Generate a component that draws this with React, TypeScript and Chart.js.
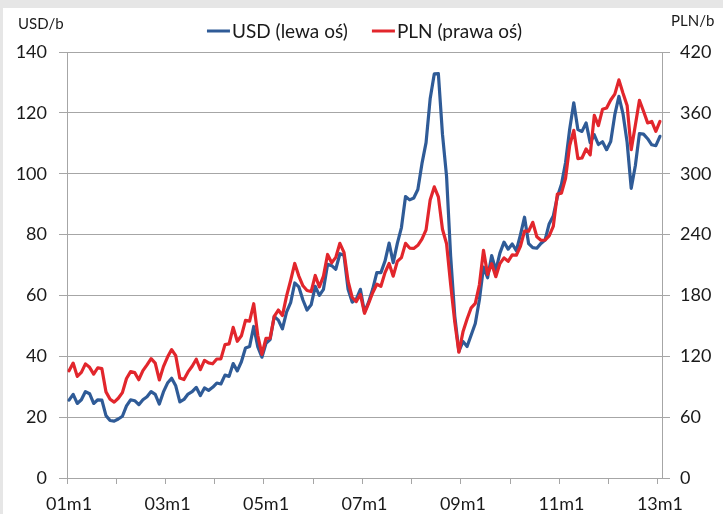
import React, { useEffect, useRef } from 'react';
import { Chart, registerables } from 'chart.js';

Chart.register(...registerables);

// ---- data ----
const YEARS = ['01', '02', '03', '04', '05', '06', '07', '08', '09', '10', '11', '12'];
const LAST_LABEL = '13m1';

const usdValues = [
  25.6, 27.5, 24.5, 25.7, 28.4, 27.7, 24.5, 25.7, 25.6, 20.5, 18.9, 18.7,
  19.4, 20.3, 23.7, 25.7, 25.4, 24.1, 25.7, 26.7, 28.4, 27.5, 24.3, 28.3,
  31.2, 32.8, 30.3, 25.0, 25.8, 27.6, 28.4, 29.8, 27.1, 29.6, 28.8, 29.8,
  31.2, 30.9, 33.8, 33.4, 37.6, 35.2, 38.2, 42.7, 43.2, 49.8, 43.1, 39.7,
  44.3, 45.5, 53.1, 51.9, 49.0, 54.5, 57.6, 64.1, 62.8, 58.5, 55.2, 56.9,
  63.0, 60.0, 62.0, 70.2, 69.8, 68.6, 73.7, 73.2, 62.0, 57.8, 58.8, 62.0,
  54.5, 57.8, 62.1, 67.5, 67.5, 71.3, 77.2, 70.8, 77.1, 82.3, 92.5, 91.4,
  92.0, 94.8, 103.3, 110.2, 124.6, 132.8, 132.9, 113.0, 99.1, 72.8, 53.2, 41.6,
  44.9, 43.2, 47.0, 50.8, 58.6, 69.3, 65.8, 73.1, 68.2, 73.9, 77.5, 75.2,
  76.9, 74.7, 79.9, 85.7, 77.0, 75.7, 75.5, 77.1, 78.2, 83.5, 86.1, 92.4,
  96.5, 103.7, 114.6, 123.3, 114.5, 113.9, 116.7, 110.2, 112.8, 109.6, 110.5, 107.9,
  110.6, 119.4, 125.4, 119.7, 110.3, 95.2, 102.6, 113.2, 113.0, 111.5, 109.5, 109.2,
  112.3,
];

const plnValues = [
  105.7, 113.3, 100.2, 104.1, 112.5, 109.1, 102.4, 108.7, 107.8, 84.9, 77.7, 74.8,
  78.6, 84.2, 98.1, 104.9, 103.9, 96.9, 105.9, 111.6, 117.6, 113.3, 96.7, 109.8,
  119.2, 126.6, 120.6, 98.5, 97.0, 104.6, 110.2, 117.1, 106.8, 116.0, 113.5, 112.6,
  117.3, 117.4, 131.5, 132.3, 148.5, 134.8, 140.2, 155.4, 154.7, 171.8, 140.5, 121.9,
  137.8, 137.9, 159.3, 165.6, 160.2, 179.3, 194.7, 211.5, 199.1, 189.5, 184.9, 183.8,
  199.7, 188.4, 199.0, 220.4, 212.2, 217.5, 231.4, 222.5, 194.1, 178.0, 174.0, 181.0,
  162.4, 172.2, 182.6, 191.0, 189.0, 202.5, 211.5, 199.0, 213.6, 217.3, 231.3, 226.7,
  226.3, 229.4, 235.5, 244.6, 274.1, 287.0, 277.2, 245.2, 230.9, 190.7, 153.7, 124.0,
  144.1, 156.8, 167.8, 172.2, 190.5, 224.5, 200.7, 211.3, 198.5, 211.4, 217.0, 213.6,
  219.9, 219.6, 228.5, 243.4, 243.3, 252.1, 237.8, 234.4, 234.6, 238.8, 248.0, 280.0,
  280.8, 295.5, 327.8, 342.8, 314.9, 315.5, 324.4, 318.5, 357.6, 347.4, 363.5, 364.7,
  372.7, 378.5, 392.5, 379.4, 367.3, 323.7, 347.8, 372.4, 361.6, 350.1, 351.5, 341.8,
  351.5,
];

const monthLabels: string[] = [];
YEARS.forEach((yy) => {
  for (let m = 1; m <= 12; m++) monthLabels.push(`${yy}m${m}`);
});
monthLabels.push(LAST_LABEL);

const SERIES_LABELS = ['USD (lewa oś)', 'PLN (prawa oś)'];
const LEFT_UNIT = 'USD/b';
const RIGHT_UNIT = 'PLN/b';

// ---- style ----
const BLUE = '#2f5b97';
const RED = '#e2262c';
const GRID = '#a6a6a6';
const TEXT = '#1a1a1a';
const FONT = 'Lato, "Open Sans", sans-serif';

const overlayPlugin = {
  id: 'overlay',
  afterDraw(chart: any) {
    const ctx = chart.ctx as CanvasRenderingContext2D;
    ctx.save();
    ctx.fillStyle = TEXT;
    ctx.textBaseline = 'middle';
    ctx.textAlign = 'left';
    ctx.font = `15px ${FONT}`;
    ctx.fillText(LEFT_UNIT, 18, 24);
    ctx.fillText(RIGHT_UNIT, 671, 21);

    ctx.font = `19px ${FONT}`;
    const items = chart.data.datasets.map((ds: any) => ({
      text: ds.label as string,
      color: ds.borderColor as string,
      w: ctx.measureText(ds.label).width,
    }));
    const lineLen = 23;
    const gapLT = 2;
    const gapItems = 24;
    const total =
      items.reduce((s: number, it: any) => s + lineLen + gapLT + it.w, 0) +
      gapItems * (items.length - 1);
    const cx = (chart.chartArea.left + chart.chartArea.right) / 2;
    let x = cx - total / 2;
    const y = 31;
    items.forEach((it: any) => {
      ctx.strokeStyle = it.color;
      ctx.lineWidth = 3;
      ctx.beginPath();
      ctx.moveTo(x, y);
      ctx.lineTo(x + lineLen, y);
      ctx.stroke();
      x += lineLen + gapLT;
      ctx.fillText(it.text, x, y + 1);
      x += it.w + gapItems;
    });
    ctx.restore();
  },
};

export default function App() {
  const ref = useRef<HTMLCanvasElement>(null);

  useEffect(() => {
    if (!ref.current) return;
    const tickFont = { family: FONT, size: 18 };
    const lineCommon = {
      borderWidth: 3.2,
      pointRadius: 0,
      tension: 0,
      borderJoinStyle: 'round',
      borderCapStyle: 'round',
    };
    const chart = new Chart(ref.current, {
      type: 'line',
      data: {
        labels: monthLabels,
        datasets: [
          {
            ...lineCommon,
            label: SERIES_LABELS[0],
            data: usdValues,
            borderColor: BLUE,
            backgroundColor: BLUE,
            yAxisID: 'y',
            order: 2,
          },
          {
            ...lineCommon,
            label: SERIES_LABELS[1],
            data: plnValues,
            borderColor: RED,
            backgroundColor: RED,
            yAxisID: 'y1',
            order: 1,
          },
        ],
      } as any,
      options: {
        animation: false,
        responsive: false,
        maintainAspectRatio: false,
        layout: { padding: { top: 52, left: 0, right: 0, bottom: 0 } },
        plugins: {
          legend: { display: false },
          tooltip: { enabled: false },
        },
        scales: {
          x: {
            type: 'category',
            offset: true,
            grid: {
              offset: true,
              drawOnChartArea: false,
              tickLength: 6,
              lineWidth: 1,
              color: (c: any) =>
                typeof c.index === 'number' && c.index % 12 === 0 ? GRID : 'rgba(0,0,0,0)',
            },
            border: { color: GRID, width: 1 },
            ticks: {
              autoSkip: false,
              maxRotation: 0,
              minRotation: 0,
              padding: 9,
              color: TEXT,
              font: tickFont,
              callback: (_v: any, i: number) => (i % 24 === 0 ? monthLabels[i] : ''),
            },
            afterFit: (s: any) => {
              s.height = 36;
            },
          },
          y: {
            position: 'left',
            min: 0,
            max: 140,
            ticks: { stepSize: 20, padding: 12, color: TEXT, font: tickFont },
            grid: { color: GRID, tickLength: 8, lineWidth: 1 },
            border: { color: GRID, width: 1 },
            afterFit: (s: any) => {
              s.width = 67;
            },
          },
          y1: {
            position: 'right',
            min: 0,
            max: 420,
            ticks: { stepSize: 60, padding: 10, color: TEXT, font: tickFont },
            grid: { drawOnChartArea: false, color: GRID, tickLength: 8, lineWidth: 1 },
            border: { color: GRID, width: 1 },
            afterFit: (s: any) => {
              s.width = 61;
            },
          },
        },
      } as any,
      plugins: [overlayPlugin],
    });
    return () => chart.destroy();
  }, []);

  return (
    <div
      style={{
        position: 'fixed',
        left: 0,
        top: 0,
        width: 723,
        height: 514,
        background: '#e6e6e6',
        overflow: 'hidden',
      }}
    >
      <div
        style={{ position: 'absolute', left: 3, top: 8, right: 0, bottom: 0, background: '#ffffff' }}
      />
      <canvas
        ref={ref}
        width={723}
        height={514}
        style={{ position: 'absolute', left: 0, top: 0, width: 723, height: 514 }}
      />
    </div>
  );
}
